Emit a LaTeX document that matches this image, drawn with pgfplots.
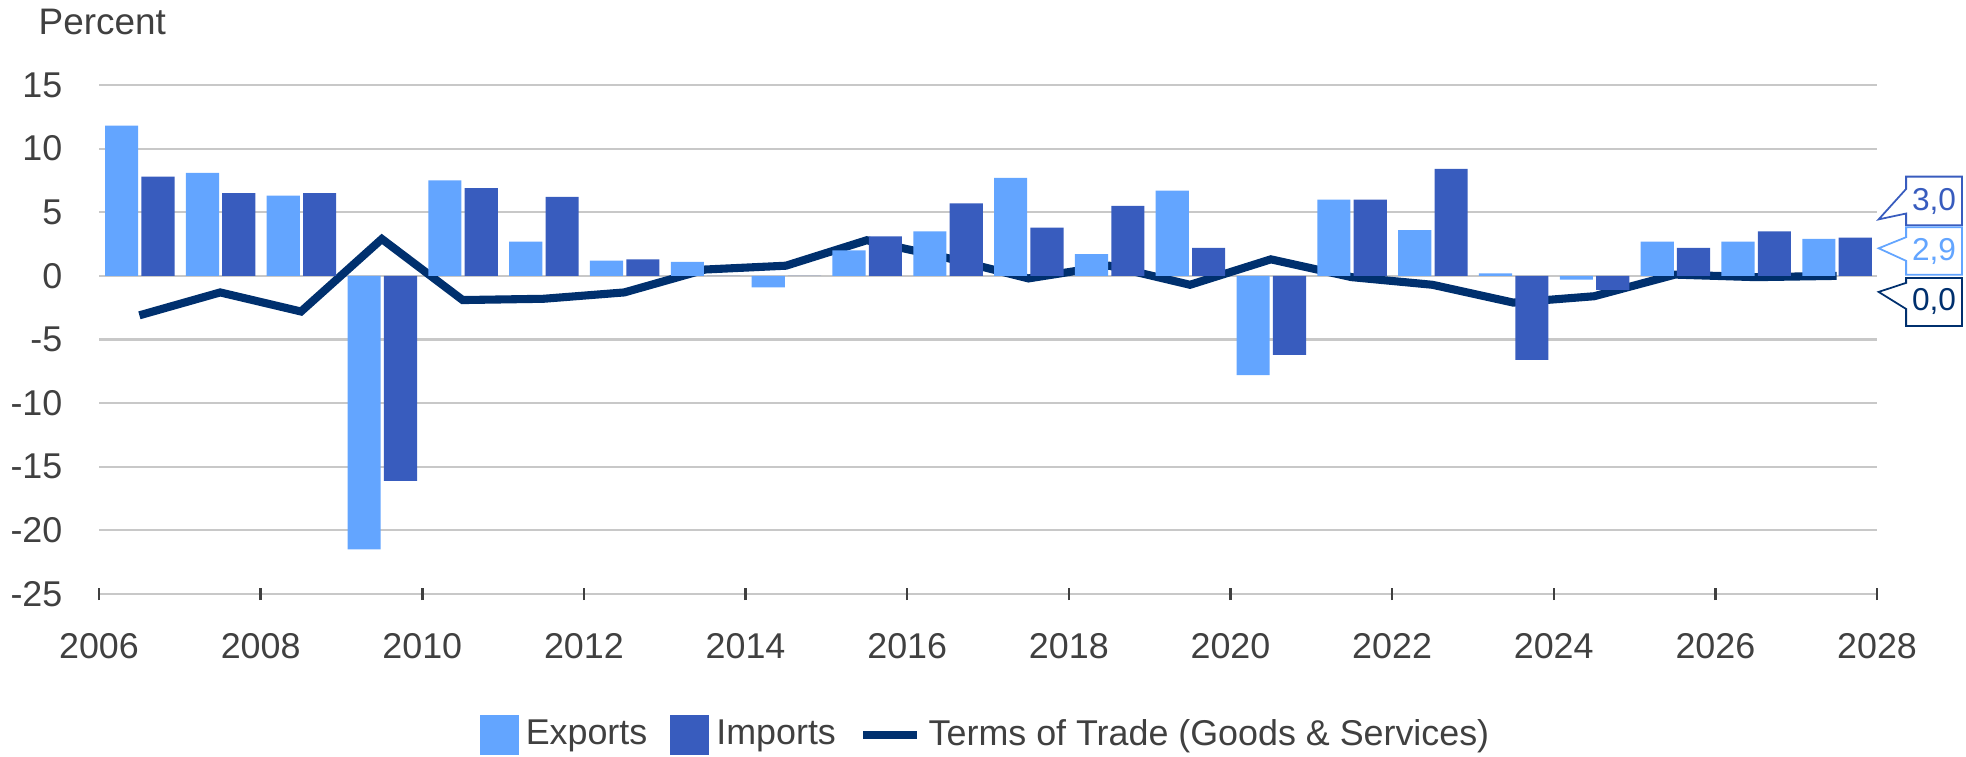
\documentclass[border=0pt]{standalone}
\usepackage{fontspec}
\setmainfont{Liberation Sans}
\usepackage{pgfplots}
\pgfplotsset{compat=1.18}
\usepackage{pgfplotstable}

\definecolor{expc}{RGB}{99,165,255}
\definecolor{impc}{RGB}{56,92,190}
\definecolor{linec}{RGB}{0,48,110}
\definecolor{gridc}{RGB}{200,200,200}
\definecolor{textc}{RGB}{64,64,64}

% year, exports, imports, terms of trade (percent)
\pgfplotstableread{
year exp imp tot
2006 11.8 7.8 -3.1
2007 8.1 6.5 -1.3
2008 6.3 6.5 -2.8
2009 -21.5 -16.1 2.9
2010 7.5 6.9 -1.9
2011 2.7 6.2 -1.8
2012 1.2 1.3 -1.3
2013 1.1 0.0 0.5
2014 -0.9 0.0 0.8
2015 2.0 3.1 2.8
2016 3.5 5.7 1.4
2017 7.7 3.8 -0.2
2018 1.7 5.5 0.8
2019 6.7 2.2 -0.7
2020 -7.8 -6.2 1.3
2021 6.0 6.0 -0.1
2022 3.6 8.4 -0.7
2023 0.2 -6.6 -2.1
2024 -0.3 -1.1 -1.6
2025 2.7 2.2 0.1
2026 2.7 3.5 -0.1
2027 2.9 3.0 0.0
}\tradedata

\begin{document}
\fontsize{10.2}{12.2}\selectfont
\begin{tikzpicture}
\begin{axis}[
  name=ax,
  scale only axis, width=177.8mm, height=50.9mm,
  xmin=2006, xmax=2028, ymin=-25, ymax=15,
  clip=false,
  axis line style={draw=none},
  xtick={2006,2008,...,2028},
  xticklabels={2006,2008,2010,2012,2014,2016,2018,2020,2022,2024,2026,2028},
  ytick={-25,-20,...,15},
  yticklabels={-25,-20,-15,-10,-5,0,5,10,15},
  xtick pos=bottom, ytick pos=left,
  tick align=center, major tick length=1.2mm,
  x tick style={draw=textc, line width=0.7pt},
  y tick style={draw=none},
  ymajorgrids, grid style={gridc, line width=0.6pt},
  tick label style={text=textc},
  xticklabel style={yshift=-2.1mm},
  yticklabel style={xshift=-1.8mm},
  legend columns=-1,
  legend style={draw=none, fill=none, text=textc,
    at={(0.5,0)}, anchor=center, yshift=-14.1mm,
    /tikz/every even column/.append style={column sep=1.6mm}},
]
\addplot[color=linec, line width=2.3pt, forget plot]
  table[x expr=\thisrow{year}+0.5, y=tot]{\tradedata};
\addplot[ybar, bar width=0.41, bar shift=0pt, fill=expc, draw=none,
  legend image code/.code={\fill[expc] (0mm,-2mm) rectangle (3.9mm,2mm);}]
  table[x expr=\thisrow{year}+0.28, y=exp]{\tradedata};
\addlegendentry{Exports}
\addplot[ybar, bar width=0.41, bar shift=0pt, fill=impc, draw=none,
  legend image code/.code={\fill[impc] (0mm,-2mm) rectangle (3.9mm,2mm);}]
  table[x expr=\thisrow{year}+0.73, y=imp]{\tradedata};
\addlegendentry{Imports}
\addlegendimage{legend image code/.code={\draw[linec, line width=2.5pt] (0mm,0mm) -- (5.4mm,0mm);}}
\addlegendentry{Terms of Trade (Goods \& Services)}

% value callouts at the right edge
\draw[impc, fill=white, line width=0.5pt]
  (axis cs:2028.36,7.8) -- (axis cs:2029.05,7.8) -- (axis cs:2029.05,3.97)
  -- (axis cs:2028.36,3.97) -- (axis cs:2028.36,4.9) -- (axis cs:2028.02,4.44)
  -- (axis cs:2028.36,6.83) -- cycle;
\node[impc] at (axis cs:2028.705,5.88) {\fontsize{9}{10}\selectfont 3,0};
\draw[expc, fill=white, line width=0.5pt]
  (axis cs:2028.36,3.82) -- (axis cs:2029.05,3.82) -- (axis cs:2029.05,0.09)
  -- (axis cs:2028.36,0.09) -- (axis cs:2028.36,1.18) -- (axis cs:2028.02,2.17)
  -- (axis cs:2028.36,3.04) -- cycle;
\node[expc] at (axis cs:2028.705,1.95) {\fontsize{9}{10}\selectfont 2,9};
\draw[linec, fill=white, line width=0.5pt]
  (axis cs:2028.36,-0.16) -- (axis cs:2029.05,-0.16) -- (axis cs:2029.05,-3.94)
  -- (axis cs:2028.36,-3.94) -- (axis cs:2028.36,-2.6) -- (axis cs:2028.02,-1.26)
  -- (axis cs:2028.36,-0.55) -- cycle;
\node[linec] at (axis cs:2028.705,-2.05) {\fontsize{9}{10}\selectfont 0,0};
\end{axis}
\node[anchor=base west, text=textc, inner sep=0pt] at ([xshift=-6.1mm,yshift=5.0mm]ax.north west) {\fontsize{10.5}{12}\selectfont Percent};
\pgfresetboundingbox
\useasboundingbox ([shift={(-9.9mm,-16.2mm)}]ax.south west) rectangle ([shift={(186.7mm,59.4mm)}]ax.south west);
\end{tikzpicture}
\end{document}
